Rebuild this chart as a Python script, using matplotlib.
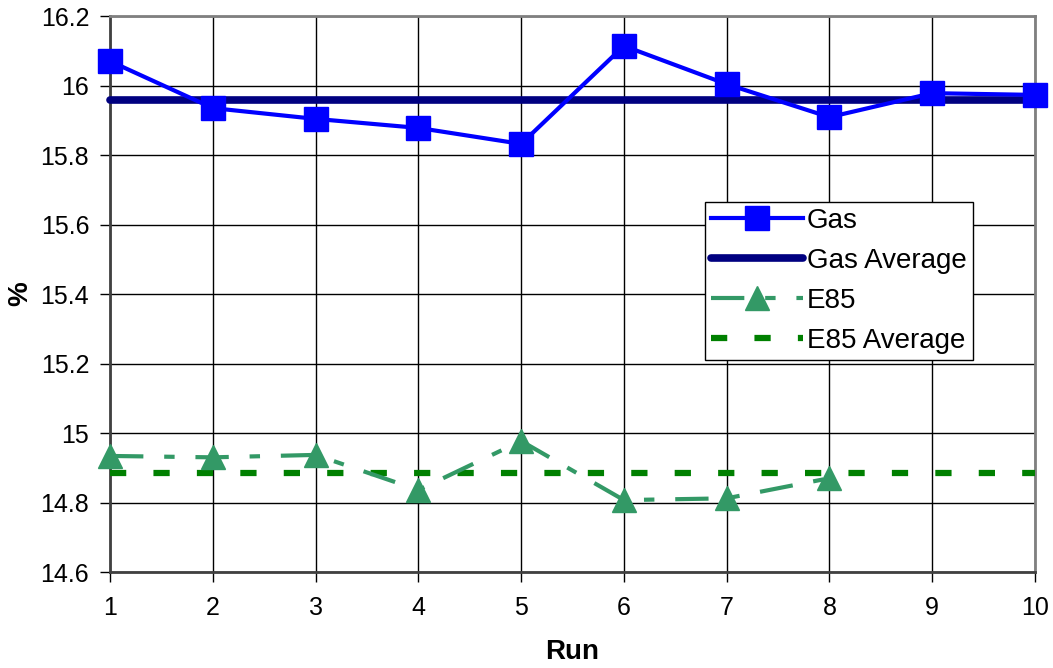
import matplotlib
matplotlib.use("Agg")
import matplotlib.pyplot as plt
import matplotlib.ticker as mt

plt.rcParams['font.family'] = ['Liberation Sans', 'DejaVu Sans']

runs_gas = [1, 2, 3, 4, 5, 6, 7, 8, 9, 10]
gas = [16.07, 15.935, 15.904, 15.878, 15.832, 16.114, 16.004, 15.909, 15.978, 15.973]
gas_avg = 15.958
runs_e85 = [1, 2, 3, 4, 5, 6, 7, 8]
e85 = [14.934, 14.930, 14.937, 14.836, 14.977, 14.807, 14.812, 14.870]
e85_avg = 14.886
avg_runs = [1, 10]

fig = plt.figure(figsize=(10.53, 6.68), dpi=100)
ax = fig.add_axes([0.1045, 0.1437, 0.8784, 0.8323])

ax.plot(runs_gas, gas, color='#0000FF', lw=3, marker='s', markersize=17,
        label='Gas', zorder=4, clip_on=False)
ax.plot(avg_runs, [gas_avg, gas_avg], color='#000080', lw=5.5,
        solid_capstyle='round', label='Gas Average', zorder=3, clip_on=False)
l_e85, = ax.plot(runs_e85, e85, color='#339966', lw=3, marker='^', markersize=17,
                 label='E85', zorder=4, clip_on=False)
l_e85.set_dashes([8, 5, 2.5, 5])
l_avg, = ax.plot(avg_runs, [e85_avg, e85_avg], color='#008000', lw=4.5,
                 label='E85 Average', zorder=3, clip_on=False)
l_avg.set_dashes([2.6, 4.35])

ax.set_xlim(1, 10)
ax.set_ylim(14.6, 16.2)
ax.xaxis.set_major_locator(mt.FixedLocator(runs_gas))
ax.yaxis.set_major_locator(mt.MultipleLocator(0.2))
ax.yaxis.set_major_formatter(mt.FuncFormatter(lambda v, p: f"{round(v, 1):g}"))

ax.grid(True, color='black', lw=1)
ax.set_axisbelow(True)
for s in ax.spines.values():
    s.set_color('#808080')
    s.set_linewidth(2)
ax.spines['left'].set_color('#404040')
ax.spines['bottom'].set_color('#404040')
ax.tick_params(axis='both', direction='out', length=7, width=1, labelsize=18,
               colors='black', pad=10)
ax.tick_params(axis='y', pad=8)

ax.set_xlabel('Run', fontsize=20, fontweight='bold', labelpad=14)
ax.set_ylabel('%', fontsize=20, fontweight='bold', labelpad=5)

leg = ax.legend(loc='upper left', bbox_to_anchor=(0.643, 0.6655), fontsize=20,
                frameon=True, fancybox=False, edgecolor='black', framealpha=1,
                handlelength=3.3, handletextpad=0.15, labelspacing=0.5,
                borderpad=0.22, borderaxespad=0)
leg.get_frame().set_linewidth(1)

fig.savefig('out.png', dpi=100)
